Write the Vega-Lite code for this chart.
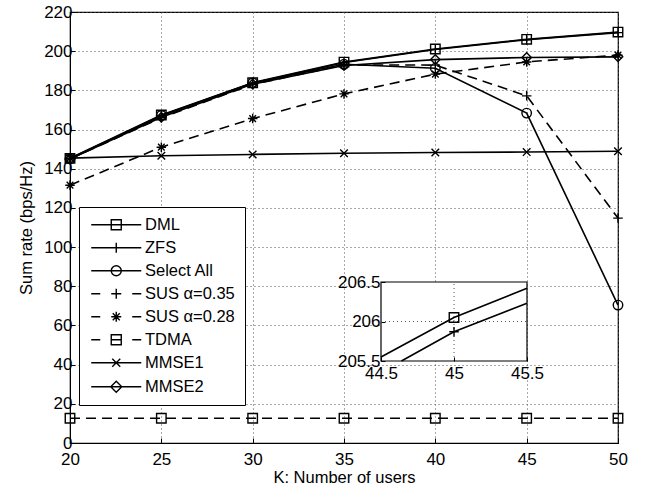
{
  "$schema": "https://vega.github.io/schema/vega-lite/v6.json",
  "width": 548,
  "height": 431,
  "autosize": {"type": "none"},
  "padding": {"left": 70, "top": 12, "right": 32, "bottom": 48},
  "background": "white",
  "config": {
    "font": "Liberation Sans",
    "view": {"stroke": "black", "strokeWidth": 1.2},
    "axis": {
      "labelFont": "Liberation Sans",
      "titleFont": "Liberation Sans",
      "labelFontSize": 17,
      "titleFontSize": 16.5,
      "titleFontWeight": "normal",
      "labelColor": "black",
      "titleColor": "black",
      "domainColor": "black",
      "tickColor": "black",
      "gridColor": "#555555",
      "gridDash": [1, 3],
      "labelFlush": false,
      "labelOverlap": false
    }
  },
  "datasets": {
    "main": [
      {"series": "DML", "k": 20, "rate": 145.3}, {"series": "DML", "k": 25, "rate": 167.4}, {"series": "DML", "k": 30, "rate": 183.9}, {"series": "DML", "k": 35, "rate": 194.4}, {"series": "DML", "k": 40, "rate": 201.1}, {"series": "DML", "k": 45, "rate": 206.05}, {"series": "DML", "k": 50, "rate": 209.75},
      {"series": "ZFS", "k": 20, "rate": 145.2}, {"series": "ZFS", "k": 25, "rate": 167.0}, {"series": "ZFS", "k": 30, "rate": 183.7}, {"series": "ZFS", "k": 35, "rate": 194.2}, {"series": "ZFS", "k": 40, "rate": 200.9}, {"series": "ZFS", "k": 45, "rate": 205.87}, {"series": "ZFS", "k": 50, "rate": 209.47},
      {"series": "Select All", "k": 20, "rate": 145.0}, {"series": "Select All", "k": 25, "rate": 167.2}, {"series": "Select All", "k": 30, "rate": 183.8}, {"series": "Select All", "k": 35, "rate": 193.3}, {"series": "Select All", "k": 40, "rate": 191.3}, {"series": "Select All", "k": 45, "rate": 168.4}, {"series": "Select All", "k": 50, "rate": 70.4},
      {"series": "SUS α=0.35", "k": 20, "rate": 145.0}, {"series": "SUS α=0.35", "k": 25, "rate": 166.0}, {"series": "SUS α=0.35", "k": 30, "rate": 183.0}, {"series": "SUS α=0.35", "k": 35, "rate": 193.0}, {"series": "SUS α=0.35", "k": 40, "rate": 192.9}, {"series": "SUS α=0.35", "k": 45, "rate": 177.2}, {"series": "SUS α=0.35", "k": 50, "rate": 114.8},
      {"series": "SUS α=0.28", "k": 20, "rate": 131.6}, {"series": "SUS α=0.28", "k": 25, "rate": 151.0}, {"series": "SUS α=0.28", "k": 30, "rate": 165.6}, {"series": "SUS α=0.28", "k": 35, "rate": 178.2}, {"series": "SUS α=0.28", "k": 40, "rate": 188.3}, {"series": "SUS α=0.28", "k": 45, "rate": 194.5}, {"series": "SUS α=0.28", "k": 50, "rate": 198.0},
      {"series": "TDMA", "k": 20, "rate": 12.6}, {"series": "TDMA", "k": 25, "rate": 12.6}, {"series": "TDMA", "k": 30, "rate": 12.6}, {"series": "TDMA", "k": 35, "rate": 12.6}, {"series": "TDMA", "k": 40, "rate": 12.6}, {"series": "TDMA", "k": 45, "rate": 12.6}, {"series": "TDMA", "k": 50, "rate": 12.6},
      {"series": "MMSE1", "k": 20, "rate": 145.4}, {"series": "MMSE1", "k": 25, "rate": 146.6}, {"series": "MMSE1", "k": 30, "rate": 147.3}, {"series": "MMSE1", "k": 35, "rate": 147.9}, {"series": "MMSE1", "k": 40, "rate": 148.3}, {"series": "MMSE1", "k": 45, "rate": 148.5}, {"series": "MMSE1", "k": 50, "rate": 148.9},
      {"series": "MMSE2", "k": 20, "rate": 145.0}, {"series": "MMSE2", "k": 25, "rate": 166.3}, {"series": "MMSE2", "k": 30, "rate": 183.2}, {"series": "MMSE2", "k": 35, "rate": 192.7}, {"series": "MMSE2", "k": 40, "rate": 195.7}, {"series": "MMSE2", "k": 45, "rate": 196.8}, {"series": "MMSE2", "k": 50, "rate": 197.1}
    ],
    "insetLines": [
      {"series": "DML", "k": 44.5, "rate": 205.55}, {"series": "DML", "k": 45, "rate": 206.05}, {"series": "DML", "k": 45.5, "rate": 206.42},
      {"series": "ZFS", "k": 44.64, "rate": 205.5}, {"series": "ZFS", "k": 45, "rate": 205.87}, {"series": "ZFS", "k": 45.5, "rate": 206.23}
    ],
    "insetPts": [
      {"series": "DML", "k": 45, "rate": 206.05},
      {"series": "ZFS", "k": 45, "rate": 205.87}
    ],
    "insetBox": [
      {"k": 44.5, "k2": 45.5, "rate": 205.5, "rate2": 206.5}
    ],
    "insetGridV": [
      {"k": 45, "rate": 205.5, "rate2": 206.5}
    ],
    "insetGridH": [
      {"k": 44.5, "k2": 45.5, "rate": 206}
    ]
  },
  "layer": [
    {
      "data": {"name": "main"},
      "encoding": {
        "x": {
          "field": "k", "type": "quantitative",
          "scale": {"domain": [20, 50], "nice": false, "zero": false},
          "axis": {"orient": "bottom", "values": [20, 25, 30, 35, 40, 45, 50], "title": "K: Number of users", "grid": true, "tickSize": -5, "labelPadding": 13, "titlePadding": 2}
        },
        "y": {
          "field": "rate", "type": "quantitative",
          "scale": {"domain": [0, 220], "nice": false, "zero": false},
          "axis": {"orient": "left", "values": [0, 20, 40, 60, 80, 100, 120, 140, 160, 180, 200, 220], "title": "Sum rate (bps/Hz)", "grid": true, "tickSize": -5, "labelPadding": 3, "titlePadding": 9}
        }
      },
      "layer": [
        {
          "transform": [{"filter": "indexof(['SUS α=0.35', 'SUS α=0.28', 'TDMA'], datum.series) < 0"}],
          "mark": {"type": "line", "color": "black", "strokeWidth": 1.6},
          "encoding": {"detail": {"field": "series", "type": "nominal"}}
        },
        {
          "transform": [{"filter": "indexof(['SUS α=0.35', 'SUS α=0.28', 'TDMA'], datum.series) >= 0"}],
          "mark": {"type": "line", "color": "black", "strokeWidth": 1.6, "strokeDash": [10, 6]},
          "encoding": {"detail": {"field": "series", "type": "nominal"}}
        },
        {
          "mark": {"type": "point", "filled": false, "color": "black", "strokeWidth": 1.4, "size": 90, "opacity": 1},
          "encoding": {
            "shape": {
              "field": "series", "type": "nominal",
              "scale": {
                "domain": ["DML", "ZFS", "Select All", "SUS α=0.35", "SUS α=0.28", "TDMA", "MMSE1", "MMSE2"],
                "range": ["square", "M-1,0H1M0,-1V1", "circle", "M-1,0H1M0,-1V1", "M-1,0H1M0,-1V1M-0.7,-0.7L0.7,0.7M-0.7,0.7L0.7,-0.7", "square", "M-0.8,-0.8L0.8,0.8M-0.8,0.8L0.8,-0.8", "diamond"]
              },
              "legend": null
            }
          }
        },
        {
          "transform": [{"filter": "datum.k < 0"}],
          "mark": {"type": "point", "filled": false, "color": "black", "strokeWidth": 1.4, "opacity": 1},
          "encoding": {
            "shape": {
              "field": "series", "type": "nominal",
              "scale": {
                "domain": ["DML", "ZFS", "Select All", "SUS α=0.35", "SUS α=0.28", "TDMA", "MMSE1", "MMSE2"],
                "range": ["M-5,0H5M-1,-1H1V1H-1Z", "M-5,0H5M0,-1V1", "M-5,0H5M-1,0A1,1 0 1,0 1,0A1,1 0 1,0 -1,0", "M-5,0H-3.2M-1,0H1M3.2,0H5M0,-1V1", "M-5,0H-3.2M3.2,0H5M-1,0H1M0,-1V1M-0.7,-0.7L0.7,0.7M-0.7,0.7L0.7,-0.7", "M-5,0H-3.2M-1,0H1M3.2,0H5M-1,-1H1V1H-1Z", "M-5,0H5M-0.8,-0.8L0.8,0.8M-0.8,0.8L0.8,-0.8", "M-5,0H5M-1.1,0L0,-1.1L1.1,0L0,1.1Z"]
              },
              "legend": {
                "orient": "none", "legendX": 9, "legendY": 195, "title": null,
                "fillColor": "white", "strokeColor": "black", "padding": 9.5,
                "labelFont": "Liberation Sans", "labelFontSize": 16.5, "labelColor": "black",
                "symbolSize": 100, "symbolOffset": 19.5, "labelOffset": 20.5, "rowPadding": 6,
                "symbolStrokeWidth": 1.4, "symbolStrokeColor": "black", "symbolFillColor": "transparent"
              }
            }
          }
        }
      ],
      "resolve": {"scale": {"shape": "independent"}}
    },
    {
      "layer": [
        {
          "data": {"name": "insetBox"},
          "mark": {"type": "rect", "fill": "white", "stroke": "black", "strokeWidth": 1.2},
          "encoding": {
            "x": {
              "field": "k", "type": "quantitative",
              "scale": {"domain": [44.5, 45.5], "range": [311, 457], "nice": false, "zero": false},
              "axis": {"orient": "bottom", "offset": -82, "values": [44.5, 45, 45.5], "format": "~g", "title": null, "grid": false, "domain": false, "tickSize": -4, "labelPadding": 8, "zindex": 1}
            },
            "x2": {"field": "k2"},
            "y": {
              "field": "rate", "type": "quantitative",
              "scale": {"domain": [205.5, 206.5], "range": [349, 270], "nice": false, "zero": false},
              "axis": {"orient": "left", "offset": -311, "values": [205.5, 206, 206.5], "format": "~g", "title": null, "grid": false, "domain": false, "tickSize": -4, "labelPadding": 5, "zindex": 1}
            },
            "y2": {"field": "rate2"}
          }
        },
        {
          "data": {"name": "insetGridV"},
          "mark": {"type": "rule", "color": "#555555", "strokeDash": [1, 3], "strokeWidth": 1},
          "encoding": {
            "x": {"field": "k", "type": "quantitative"},
            "y": {"field": "rate", "type": "quantitative"},
            "y2": {"field": "rate2"}
          }
        },
        {
          "data": {"name": "insetGridH"},
          "mark": {"type": "rule", "color": "#555555", "strokeDash": [1, 3], "strokeWidth": 1},
          "encoding": {
            "x": {"field": "k", "type": "quantitative"},
            "x2": {"field": "k2"},
            "y": {"field": "rate", "type": "quantitative"}
          }
        },
        {
          "data": {"name": "insetLines"},
          "mark": {"type": "line", "color": "black", "strokeWidth": 1.6},
          "encoding": {
            "x": {"field": "k", "type": "quantitative"},
            "y": {"field": "rate", "type": "quantitative"},
            "detail": {"field": "series", "type": "nominal"}
          }
        },
        {
          "data": {"name": "insetPts"},
          "transform": [{"filter": "datum.series === 'DML'"}],
          "mark": {"type": "point", "shape": "square", "filled": false, "color": "black", "strokeWidth": 1.4, "size": 90, "opacity": 1},
          "encoding": {
            "x": {"field": "k", "type": "quantitative"},
            "y": {"field": "rate", "type": "quantitative"}
          }
        },
        {
          "data": {"name": "insetPts"},
          "transform": [{"filter": "datum.series === 'ZFS'"}],
          "mark": {"type": "point", "shape": "M-1,0H1M0,-1V1", "filled": false, "color": "black", "strokeWidth": 1.4, "size": 90, "opacity": 1},
          "encoding": {
            "x": {"field": "k", "type": "quantitative"},
            "y": {"field": "rate", "type": "quantitative"}
          }
        }
      ]
    }
  ],
  "resolve": {"scale": {"x": "independent", "y": "independent"}}
}
